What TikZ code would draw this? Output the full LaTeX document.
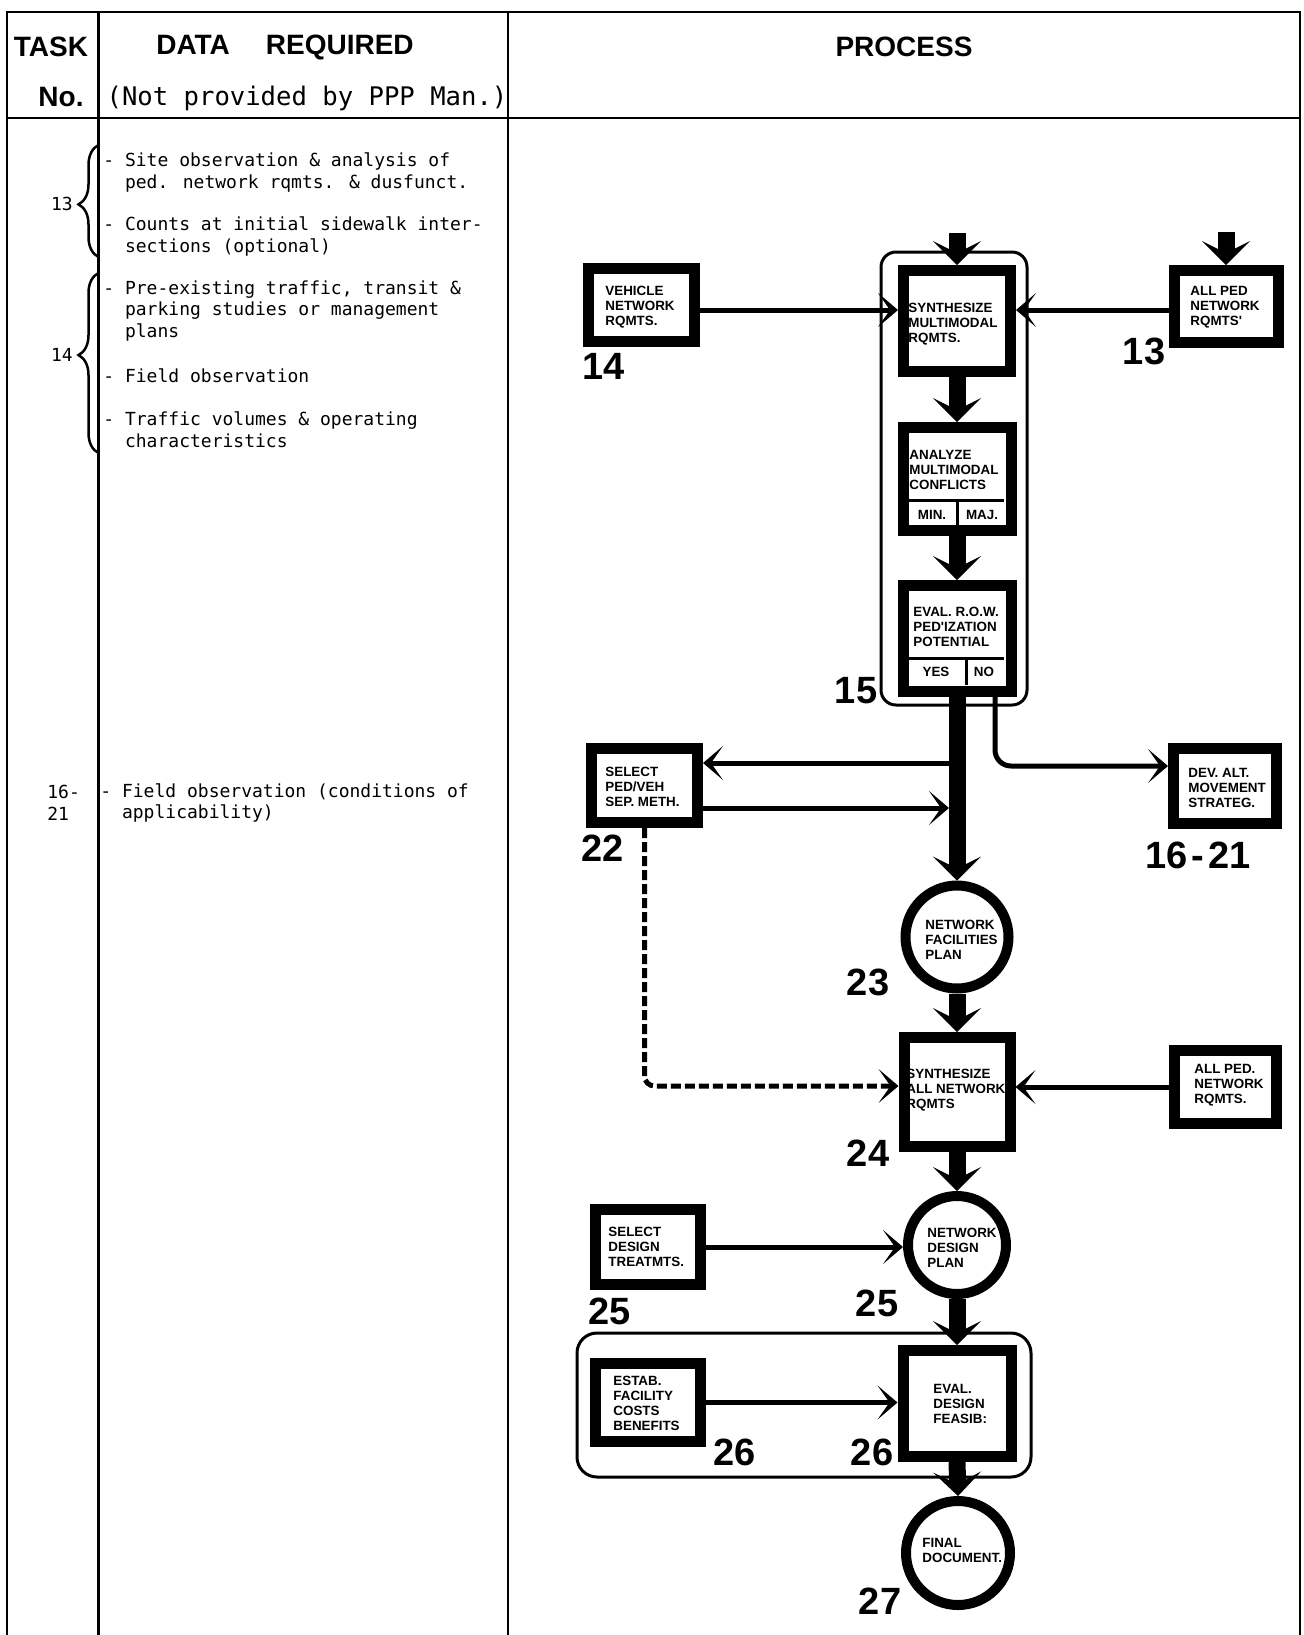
\documentclass[tikz,border=0pt]{standalone}
\usepackage{fontspec}
\usepackage{graphicx}
\usetikzlibrary{arrows.meta,decorations.pathreplacing,calc}
\newfontfamily\lsans{Liberation Sans}
\newfontfamily\dmono{DejaVu Sans Mono}
\newcommand\myHdr{\lsans\bfseries\fontsize{14}{16}\selectfont}
\newcommand\myHmono{\dmono\fontsize{12.8}{15}\selectfont}
\newcommand\myBody{\dmono\fontsize{9}{10.75}\selectfont}
\newcommand\myBox{\lsans\bfseries\fontsize{6.7}{7.5}\selectfont}
\newcommand\myNum{\lsans\bfseries\fontsize{19}{21}\selectfont}
\begin{document}
\begin{tikzpicture}[x=0.5pt,y=-0.5pt,
  tbl/.style={line width=1.1pt},
  pbox/.style={draw, rectangle, line width=5.5pt, inner sep=0pt},
  pcirc/.style={draw, circle, line width=5pt, inner sep=0pt},
  btxt/.style={inner sep=0pt, anchor=west, align=left, font=\myBox},
  ctxt/.style={inner sep=0pt, font=\myBox},
  bignum/.style={inner sep=0pt, font=\myNum},
  hdr/.style={inner sep=0pt, font=\myHdr},
  dtxt/.style={inner sep=0pt, anchor=west, align=left, font=\myBody},
  thinarr/.style={line width=2.5pt, -{Stealth[length=10pt,width=17pt,inset=6pt,line width=0pt]}},
  fatarr/.style={line width=8.5pt, -{Stealth[length=12pt,width=24pt,inset=6pt,line width=0pt]}},
  dasharr/.style={line width=2.5pt, dash pattern=on 5pt off 2pt, rounded corners=5pt, -{Stealth[length=10pt,width=17pt,inset=6pt,line width=0pt]}},
  cont/.style={line width=1.5pt},
  cdiv/.style={line width=1.5pt},
  bracegrp/.style={line width=1.25pt, decorate},
]
\useasboundingbox (0,0) rectangle (1304,1635);
% ---------- table frame ----------
\draw[tbl] (7,1635) -- (7,12) -- (1300,12) -- (1300,1635);
\draw[tbl] (7,118) -- (1300,118);
\draw[tbl] (98.5,12) -- (98.5,1635);
\draw[tbl] (508,12) -- (508,1635);
% ---------- header ----------
\node[hdr] (hTask) at (51,47) {TASK};
\node[hdr] (hNo) at (61,97) {No.};
\node[hdr] (hData) at (285,47) {DATA\hspace{18pt}REQUIRED};
\node[inner sep=0pt, font=\myHmono] (hNot) at (307,98) {(Not provided by PPP Man.)};
\node[hdr] (hProc) at (904,47) {PROCESS};
% ---------- data required column ----------
\node[dtxt] (d1) at (103,172.5) {-~Site observation \& analysis of\\\hspace*{1.204em}ped. network rqmts. \& dusfunct.};
\node[dtxt] (d2) at (103,236.5) {-~Counts at initial sidewalk inter-\\\hspace*{1.204em}sections (optional)};
\node[dtxt] (d3) at (103,311) {-~Pre-existing traffic, transit \&\\\hspace*{1.204em}parking studies or management\\\hspace*{1.204em}plans};
\node[dtxt] (d4) at (103,376) {-~Field observation};
\node[dtxt] (d5) at (103,429.5) {-~Traffic volumes \& operating\\\hspace*{1.204em}characteristics};
\node[dtxt] (d6) at (100,803) {-~Field observation (conditions of\\\hspace*{1.204em}applicability)};
\node[inner sep=0pt, font=\myBody] (n13) at (62,204) {13};
\node[inner sep=0pt, font=\myBody] (n14) at (62,355) {14};
\node[dtxt] (n1621) at (47,803) {16-\\21};
\draw[bracegrp, decoration={brace, amplitude=10pt, aspect=0.47}] (98.5,257) -- (98.5,145);
\draw[bracegrp, decoration={brace, amplitude=10pt, aspect=0.544}] (98.5,453) -- (98.5,273);
% ---------- group containers ----------
\draw[cont, rounded corners=7.5pt] (881,252) rectangle (1027,705);
\draw[cont, rounded corners=10pt] (577,1333) rectangle (1031,1477);
% ---------- process boxes ----------
\node[pbox, minimum width=53pt, minimum height=36.5pt] (veh) at (641.5,305) {};
\node[pbox, minimum width=53.5pt, minimum height=50.5pt] (s1) at (957,321) {};
\node[pbox, minimum width=52pt, minimum height=36pt] (ap1) at (1226,306.5) {};
\node[pbox, minimum width=54pt, minimum height=51.5pt] (a1) at (957,479) {};
\node[pbox, minimum width=54pt, minimum height=53pt] (e1) at (957,638.5) {};
\node[pbox, minimum width=53pt, minimum height=37pt] (sel22) at (644.5,785.5) {};
\node[pbox, minimum width=51.5pt, minimum height=37.5pt] (dev) at (1225,786) {};
\node[pcirc, minimum size=51.5pt] (c23) at (957,937) {};
\node[pbox, minimum width=53pt, minimum height=54.5pt] (s2) at (957,1092) {};
\node[pbox, minimum width=51pt, minimum height=36.5pt] (ap2) at (1225.5,1087) {};
\node[pbox, minimum width=52.5pt, minimum height=37.5pt] (sd) at (648,1247) {};
\node[pcirc, minimum size=49pt] (c25) at (957,1245) {};
\node[pbox, minimum width=52.5pt, minimum height=39pt] (est) at (648,1402.5) {};
\node[pbox, minimum width=54pt, minimum height=53pt] (ev) at (957,1403.5) {};
\node[pcirc, minimum size=52pt] (c27) at (958,1553) {};
% compartments
\draw[cdiv] (907,500) -- (1004,500);
\draw[cdiv] (957,500) -- (957,525);
\draw[cdiv] (907,658) -- (1004,658);
\draw[cdiv] (966,658) -- (966,685);
% ---------- box texts ----------
\node[btxt] (tVeh) at (605,307) {VEHICLE\\NETWORK\\RQMTS.};
\node[btxt] (tS1) at (908,324) {SYNTHESIZE\\MULTIMODAL\\RQMTS.};
\node[btxt] (tAp1) at (1190,307) {ALL PED\\NETWORK\\RQMTS'};
\node[btxt] (tA1) at (909,470) {ANALYZE\\MULTIMODAL\\CONFLICTS};
\node[ctxt] (tMin) at (932,515) {MIN.};
\node[ctxt] (tMaj) at (982,515) {MAJ.};
\node[btxt] (tE1) at (913,627) {EVAL. R.O.W.\\PED'IZATION\\POTENTIAL};
\node[ctxt] (tYes) at (936,672) {YES};
\node[ctxt] (tNo) at (984,672) {NO};
\node[btxt] (tSel) at (605,787) {SELECT\\PED/VEH\\SEP. METH.};
\node[btxt] (tDev) at (1188,788) {DEV. ALT.\\MOVEMENT\\STRATEG.};
\node[btxt] (tC23) at (925,940) {NETWORK\\FACILITIES\\PLAN};
\node[btxt] (tS2) at (906,1090) {SYNTHESIZE\\ALL NETWORK\\RQMTS};
\node[btxt] (tAp2) at (1194,1085) {ALL PED.\\NETWORK\\RQMTS.};
\node[btxt] (tSd) at (608,1247) {SELECT\\DESIGN\\TREATMTS.};
\node[btxt] (tC25) at (927,1248) {NETWORK\\DESIGN\\PLAN};
\node[btxt] (tEst) at (613,1403) {ESTAB.\\FACILITY\\COSTS\\BENEFITS};
\node[btxt] (tEv) at (933,1404) {EVAL.\\DESIGN\\FEASIB:};
\node[btxt] (tC27) at (922,1550) {FINAL\\DOCUMENT.};
% ---------- task numbers ----------
\node[bignum] (l14) at (604,366) {14};
\node[bignum] (l13) at (1144,351) {13};
\node[bignum] (l15) at (856,691) {15};
\node[bignum] (l22) at (603,848) {22};
\node[bignum] (l1621) at (1198,855) {16{\kern2pt}-{\kern2pt}21};
\node[bignum] (l23) at (868,982) {23};
\node[bignum] (l24) at (868,1153) {24};
\node[bignum] (l25a) at (610,1311) {25};
\node[bignum] (l25b) at (877,1303) {25};
\node[bignum] (l26a) at (735,1452) {26};
\node[bignum] (l26b) at (872,1452) {26};
\node[bignum] (l27) at (880,1601) {27};
% ---------- fat arrows ----------
\coordinate (topS1) at (957,233);
\coordinate (top13) at (1226,232);
\draw[fatarr] (topS1) -- (s1.north);
\draw[fatarr] (top13) -- (ap1.north);
\draw[fatarr] (s1.south) -- (a1.north);
\draw[fatarr] (a1.south) -- (e1.north);
\draw[fatarr] (e1.south) -- (c23.north);
\draw[fatarr] (c23.south) -- (s2.north);
\draw[fatarr] (s2.south) -- (c25.north);
\draw[fatarr] (c25.south) -- (ev.north);
\draw[fatarr] (ev.south) -- (c27.north);
% ---------- thin arrows ----------
\coordinate (yVeh) at (0,310);
\draw[thinarr] (veh.east |- yVeh) -- (s1.west |- yVeh);
\draw[thinarr] (ap1.west |- yVeh) -- (s1.east |- yVeh);
\coordinate (jA) at (957,763);
\coordinate (jB) at (949,808);
\draw[thinarr] (jA) -- (jA -| sel22.east);
\draw[thinarr] (jB -| sel22.east) -- (jB);
\coordinate (noS) at (995,697);
\coordinate (noY) at (0,766);
\draw[thinarr, rounded corners=8pt] (noS) |- (noY -| dev.west);
\coordinate (dY) at (0,1086);
\draw[dasharr] (sel22.south) |- (dY -| s2.west);
\draw[thinarr] (ap2.west) -- (ap2.west -| s2.east);
\draw[thinarr] (sd.east) -- (sd.east -| c25.west);
\draw[thinarr] (est.east) -- (est.east -| ev.west);
\end{tikzpicture}
\end{document}
